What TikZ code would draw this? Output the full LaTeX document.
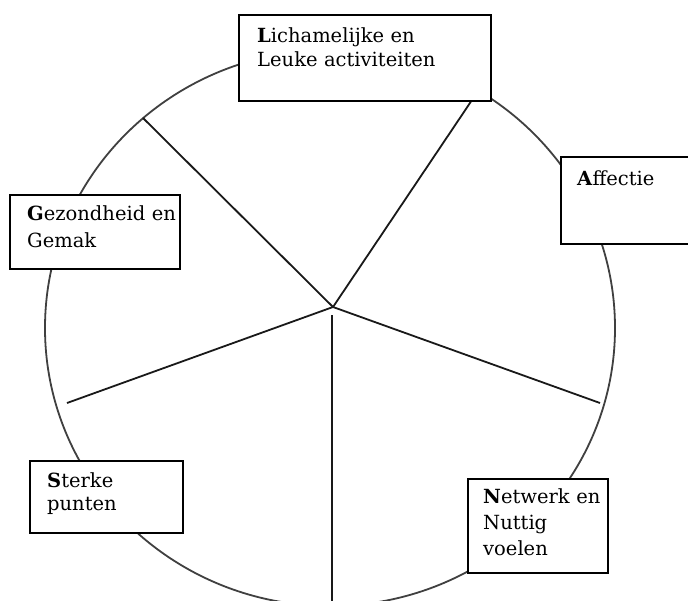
\documentclass[tikz,border=0pt]{standalone}
\usepackage{fontspec}
\setmainfont{DejaVu Serif}
\begin{document}
\begin{tikzpicture}[x=1pt,y=-1pt,
  box/.style={draw=black, line width=1.8pt, fill=white, anchor=north west, inner sep=0pt},
  lbl/.style={anchor=base west, inner sep=0pt, text width=220pt, align=left},
  ring/.style={draw=black!75, line width=1.8pt},
  spoke/.style={draw=black!90, line width=1.8pt}]
\clip (0,0) rectangle (688,600);
\fill[white] (0,0) rectangle (688,600);
% circle
\draw[ring] (330,328) ellipse [x radius=285, y radius=278];
% spokes
\coordinate (hub) at (333,307);
\coordinate (e1) at (143,118);
\coordinate (e2) at (472,100);
\coordinate (e3) at (600,403);
\coordinate (e4) at (67,403);
\coordinate (v1) at (332,315);
\coordinate (v2) at (332,601);
\draw[spoke] (hub) -- (e1);
\draw[spoke] (hub) -- (e2);
\draw[spoke] (hub) -- (e3);
\draw[spoke] (hub) -- (e4);
\draw[spoke] (v1) -- (v2);
% boxes
\node[box, minimum width=252pt, minimum height=86pt] (bL) at (238,14) {};
\node[box, minimum width=140pt, minimum height=87pt] (bA) at (560,156) {};
\node[box, minimum width=170pt, minimum height=74pt] (bG) at (9,194) {};
\node[box, minimum width=153pt, minimum height=72pt] (bS) at (29,460) {};
\node[box, minimum width=140pt, minimum height=94pt] (bN) at (467,478) {};
% texts
\node[lbl, font=\fontsize{19.5}{24}\selectfont] (tL) at (257,42) {\textbf{L}ichamelijke en\\Leuke activiteiten};
\node[lbl, font=\fontsize{19.5}{24}\selectfont] (tA) at (577,185) {\textbf{A}ffectie};
\node[lbl, font=\fontsize{19.5}{27}\selectfont] (tG) at (27,220) {\textbf{G}ezondheid en\\Gemak};
\node[lbl, font=\fontsize{19.5}{23}\selectfont] (tS) at (47,487) {\textbf{S}terke\\punten};
\node[lbl, font=\fontsize{19.5}{26}\selectfont] (tN) at (483,503) {\textbf{N}etwerk en\\Nuttig\\voelen};
\end{tikzpicture}
\end{document}
